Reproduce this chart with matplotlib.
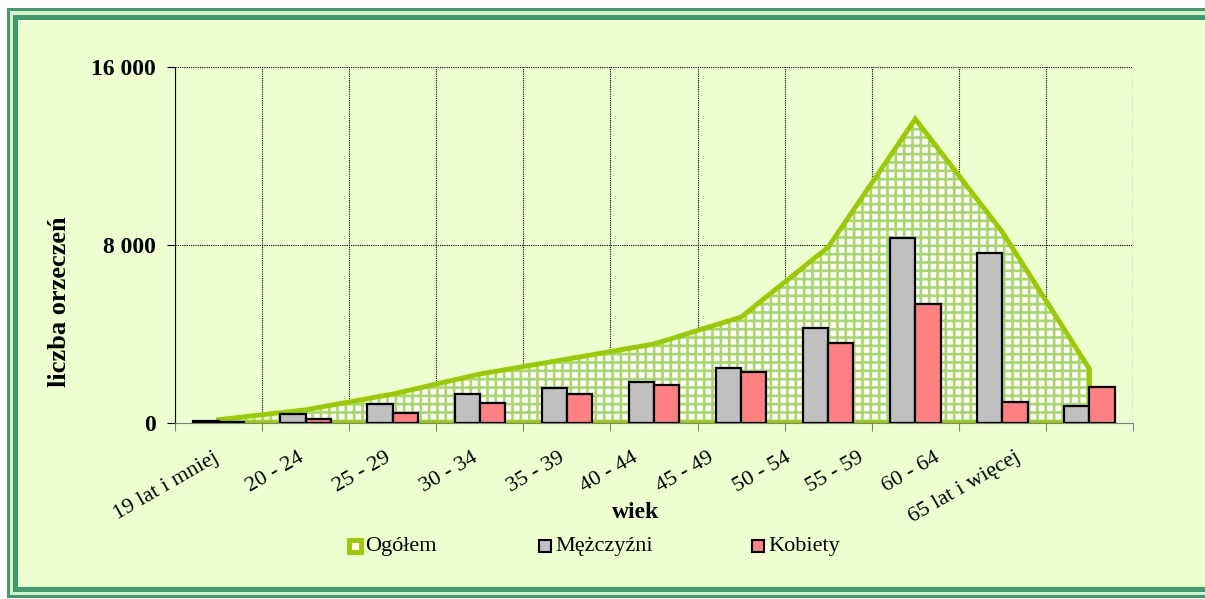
import matplotlib
matplotlib.use('Agg')
import matplotlib.pyplot as plt
from matplotlib.patches import Rectangle
from matplotlib.transforms import ScaledTranslation
import numpy as np

# age groups and counts
groups = ['19 lat i mniej', '20 - 24', '25 - 29', '30 - 34', '35 - 39', '40 - 44',
          '45 - 49', '50 - 54', '55 - 59', '60 - 64', '65 lat i więcej']
ogolem = [150, 590, 1300, 2200, 2870, 3550, 4760, 7900, 13660, 8580, 2430]
mezczyzni = [90, 400, 850, 1300, 1570, 1840, 2470, 4270, 8310, 7640, 770]
kobiety = [60, 180, 450, 900, 1300, 1710, 2290, 3600, 5350, 940, 1620]

# horizontal nudge of each category label (px), as laid out in the original
label_shift = [4, 2, 1, 1, 1, -13, -24, -34, -48, -59, -66]

bg = '#EEFFD0'
frame_green = '#3E9C6C'
area_green = '#99CC00'
hatch_green = '#A8D86A'

plt.rcParams['font.family'] = ['Liberation Serif', 'DejaVu Serif']
plt.rcParams['hatch.linewidth'] = 1.9
plt.rcParams['hatch.color'] = hatch_green

fig = plt.figure(figsize=(12.05, 5.99), dpi=100)
fig.patch.set_facecolor('white')

# double green frame (right side runs off the picture, as in the original)
W, H = 1205, 599
def frect(x0, y0, x1, y1, z=-10, **kw):
    fig.patches.append(Rectangle((x0 / W, 1 - y1 / H), (x1 - x0) / W, (y1 - y0) / H,
                                 transform=fig.transFigure, zorder=z, **kw))
frect(7, 8, 1230, 598, facecolor=frame_green, edgecolor='none')
frect(10, 11, 1225, 595, facecolor='#D9F0CF', edgecolor='none')
frect(13, 15, 1220, 592, facecolor=frame_green, edgecolor='none')
frect(18, 20, 1215, 587, facecolor=bg, edgecolor='none')

ax = fig.add_axes([175 / W, 1 - 423 / H, (1133 - 175) / W, (423 - 67) / H])
ax.set_facecolor(bg)

n = len(groups)
x = np.arange(n) + 0.5

# area (total)
poly_x = np.concatenate([x, x[::-1]])
poly_y = np.concatenate([ogolem, np.zeros(n)])
ax.fill(poly_x, poly_y, facecolor='white', hatch='++', edgecolor=hatch_green,
        linewidth=0, zorder=2)
ax.plot(list(x) + [x[-1], x[0]], ogolem + [0, 0], color=area_green, lw=3.5,
        solid_joinstyle='miter', zorder=3)

bw = 0.29
ax.bar(x - bw / 2, mezczyzni, width=bw, color='#C0C0C0', edgecolor='black',
       linewidth=1.6, zorder=4)
ax.bar(x + bw / 2, kobiety, width=bw, color='#FF8080', edgecolor='black',
       linewidth=1.6, zorder=4)

ax.set_xlim(0, n)
ax.set_ylim(0, 16000)
ax.set_yticks([0, 8000, 16000])
ax.set_yticklabels(['0', '8 000', '16 000'], fontsize=17, fontweight='bold')
ax.set_xticks(np.arange(n + 1))
ax.set_xticklabels([])
ax.set_xticks(x, minor=True)
ax.set_xticklabels(groups, minor=True, rotation=30, ha='right', fontsize=16)
ax.tick_params(axis='x', which='minor', length=0, pad=18)
ax.tick_params(axis='x', which='major', length=6, color='#808080', direction='out')
ax.tick_params(axis='y', length=6, direction='out', pad=8)
for lab, dx in zip(ax.get_xticklabels(minor=True), label_shift):
    lab.set_transform(lab.get_transform() + ScaledTranslation(dx / 100, 0, fig.dpi_scale_trans))

ax.grid(True, which='major', color='black', linestyle=(0, (1, 1)), linewidth=0.8, zorder=1)
ax.set_axisbelow(True)
for s in ['top', 'right']:
    ax.spines[s].set_visible(False)
ax.spines['bottom'].set_color('#808080')
ax.spines['left'].set_color('black')
ax.axvline(n, color='black', linestyle=(0, (1, 1)), linewidth=0.8, zorder=1)

fig.text(60 / W, 1 - 302 / H, 'liczba orzeczeń', rotation=90, ha='center',
         va='center', fontsize=19, fontweight='bold')
fig.text(636 / W, 1 - 512 / H, 'wiek', ha='center', va='center', fontsize=17,
         fontweight='bold')

# legend
leg = [('Ogółem', 349, dict(facecolor='white', edgecolor=area_green, linewidth=3.5)),
       ('Mężczyźni', 539, dict(facecolor='#C0C0C0', edgecolor='black', linewidth=1.5)),
       ('Kobiety', 752, dict(facecolor='#FF8080', edgecolor='black', linewidth=1.5))]
for label, lx, style in leg:
    frect(lx, 540, lx + 12, 552, z=5, **style)
    fig.text((lx + 16) / W, 1 - 546 / H, label, ha='left', va='center', fontsize=16)

fig.savefig('out.png', dpi=100, facecolor=fig.get_facecolor())
